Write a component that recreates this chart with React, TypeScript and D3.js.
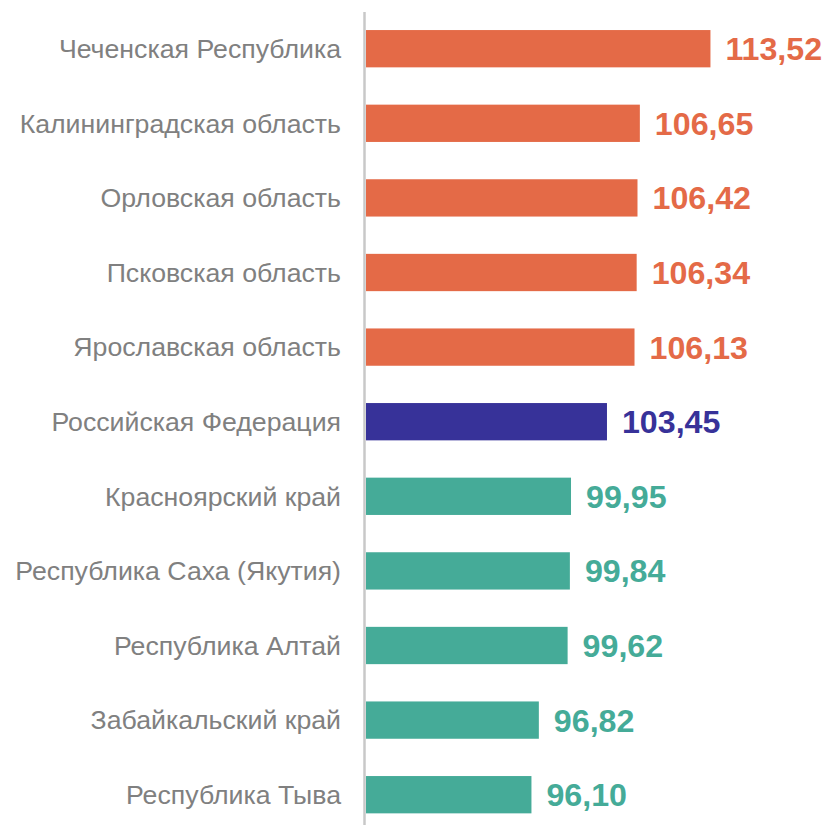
import React from "react";
import * as d3 from "d3";

const categories = [
  "Чеченская Республика",
  "Калининградская область",
  "Орловская область",
  "Псковская область",
  "Ярославская область",
  "Российская Федерация",
  "Красноярский край",
  "Республика Саха (Якутия)",
  "Республика Алтай",
  "Забайкальский край",
  "Республика Тыва",
];
const values = [113.52, 106.65, 106.42, 106.34, 106.13, 103.45, 99.95, 99.84, 99.62, 96.82, 96.1];
const groups = ["high", "high", "high", "high", "high", "rf", "low", "low", "low", "low", "low"];

const colorOf: Record<string, string> = { high: "#E46A47", rf: "#373299", low: "#45AB98" };

export default function App() {
  const W = 831, H = 825;
  const x = d3.scaleLinear().domain([80, 120]).range([366, 366 + 40 * 10.276]);
  const y = d3.scaleBand<string>().domain(categories).range([11.4, 11.4 + 11 * 74.6]).paddingInner(0.5).paddingOuter(0.25);
  const fmt = (v: number) => v.toFixed(2).replace(".", ",");
  return (
    <svg width={W} height={H} style={{ position: "absolute", left: 0, top: 0, background: "#fff" }}
      fontFamily="'Liberation Sans', Arial, sans-serif">
      {categories.map((c, i) => {
        const yy = y(c)!;
        const bw = y.bandwidth();
        return (
          <g key={c}>
            <rect x={x(80)} y={yy} width={x(values[i]) - x(80)} height={bw} fill={colorOf[groups[i]]} />
            <text x={341} y={yy + bw / 2} dy="0.35em" textAnchor="end" fontSize={26.7} fill="#808080">{c}</text>
            <text x={x(values[i]) + 15} y={yy + bw / 2} dy="0.36em" fontSize={32.2} fontWeight="bold" fill={colorOf[groups[i]]}>{fmt(values[i])}</text>
          </g>
        );
      })}
      <line x1={364.5} x2={364.5} y1={12} y2={H} stroke="#C8C8C8" strokeWidth={2.5} />
    </svg>
  );
}
